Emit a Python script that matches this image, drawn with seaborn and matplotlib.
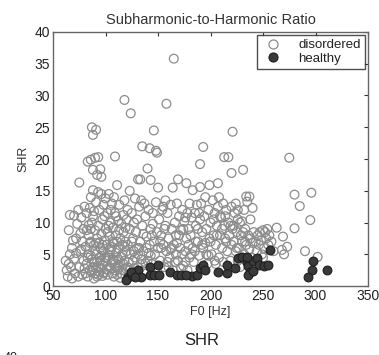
import matplotlib
matplotlib.use("Agg")
import matplotlib.pyplot as plt
from matplotlib.lines import Line2D
import seaborn as sns
import pandas as pd

# ---- data ----
dis_x = [
    63, 65, 66, 65, 66, 68, 70, 70, 71, 72, 73, 74, 75, 75, 76, 77, 78, 78, 79, 79, 80, 80, 64, 68, 72, 76, 62,
    81, 82, 82, 83, 83, 84, 84, 85, 85, 86, 86, 86, 87, 87, 87, 88, 88, 88, 88, 89, 89, 90, 90, 90, 91, 91, 91,
    92, 92, 92, 93, 93, 93, 94, 94, 95, 95, 95, 96, 96, 96, 97, 97, 98, 98, 99, 99, 100, 100, 100, 84, 86, 89,
    91, 94, 97, 99, 93, 88, 82,
    101, 101, 102, 102, 103, 103, 104, 104, 105, 105, 106, 106, 107, 107, 108, 108, 109, 109, 109, 110, 110,
    111, 111, 112, 112, 113, 113, 114, 115, 115, 116, 116, 117, 117, 118, 118, 119, 119, 120, 120, 103, 106,
    108, 111, 114, 117, 105, 112, 118, 110,
    121, 121, 122, 123, 124, 124, 125, 126, 127, 128, 128, 129, 130, 130, 131, 131, 132, 133, 133, 134, 135,
    135, 136, 137, 137, 138, 139, 140, 140, 141, 142, 142, 143, 143, 144, 145, 146, 146, 147, 148, 148, 149,
    149, 150, 150, 123, 127, 134, 139, 144, 122, 126, 129, 136, 141, 145, 132, 138,
    151, 152, 153, 154, 155, 156, 157, 158, 158, 159, 160, 161, 162, 163, 164, 164, 165, 165, 166, 167, 168,
    169, 169, 170, 171, 172, 173, 174, 175, 176, 177, 177, 178, 179, 180, 155, 160, 166, 172, 178, 153, 162,
    168, 174, 180, 157, 176,
    181, 182, 183, 183, 184, 185, 186, 187, 188, 189, 190, 190, 190, 191, 192, 193, 193, 194, 195, 196, 197,
    198, 199, 199, 200, 201, 202, 203, 204, 205, 206, 207, 207, 208, 209, 210, 211, 212, 213, 213, 214, 215,
    216, 217, 217, 218, 219, 220, 220, 220, 185, 195, 205, 212, 188, 198, 208, 203, 214,
    221, 221, 222, 223, 224, 225, 226, 227, 228, 229, 230, 231, 232, 233, 234, 234, 235, 236, 237, 237, 238,
    239, 240, 240, 241, 242, 243, 244, 245, 246, 247, 248, 249, 250, 251, 252, 253, 254, 255, 256, 258, 260,
    226, 230, 245, 250, 232, 224,
    263, 269, 273, 268, 275, 280, 280, 285, 296, 295, 302, 290, 270,
    67, 69, 74, 77, 81, 83, 85, 87, 89, 90, 92, 94, 96, 98, 99, 97, 95, 93, 91, 86,
    102, 104, 106, 107, 109, 110, 112, 113, 115, 116, 118, 119, 121, 123, 125, 127, 101, 105, 108, 111,
    131, 135, 139, 143, 147, 152, 156, 159, 163, 167, 170, 173, 176, 179,
    182, 186, 189, 192, 196, 200, 204, 206, 209, 211, 215, 219, 222, 226, 228, 231, 233, 238, 225, 229,
]
dis_y = [
    2.5, 3.5, 5.0, 8.8, 11.2, 6.0, 4.3, 11.1, 2.0, 7.5, 9.8, 12.0, 3.0, 16.3, 5.5, 10.8, 1.8, 7.0, 4.0, 9.0, 12.5, 2.8, 1.5, 1.2, 5.2, 8.3, 4.0,
    6.2, 3.5, 11.5, 19.6, 1.5, 8.0, 5.0, 12.3, 2.5, 19.9, 14.0, 7.0, 25.0, 4.2, 10.0, 18.3, 15.1, 3.0, 23.8, 6.5, 11.8, 20.2, 8.8, 2.0, 24.6, 13.2, 5.0,
    17.5, 3.8, 7.5, 20.3, 9.5, 1.8, 12.0, 4.5, 18.4, 6.0, 2.8, 17.2, 14.5, 8.2, 10.5, 3.3, 5.5, 12.8, 7.2, 2.2, 9.0, 4.0, 13.8, 9.6, 4.8, 1.2,
    6.8, 2.2, 6.5, 11.0, 14.8, 11.0, 8.8,
    6.5, 2.6, 11.5, 8.5, 4.8, 14.5, 3.0, 7.8, 10.0, 5.8, 13.0, 2.0, 9.2, 4.2, 6.8, 14.0, 20.4, 3.5, 11.5, 8.0, 5.2,
    15.9, 1.8, 10.3, 6.0, 3.2, 12.8, 7.5, 4.6, 9.8, 2.5, 6.5, 11.2, 8.5, 29.3, 4.0, 7.0, 2.8, 10.5, 5.5, 9.5, 6.2,
    1.5, 4.5, 1.3, 3.5, 12.0, 2.7, 13.5, 11.0,
    6.5, 12.0, 3.8, 9.0, 27.2, 5.0, 11.5, 7.5, 2.8, 13.8, 4.5, 8.5, 10.5, 6.0, 16.8, 3.0, 12.5, 7.0, 16.8, 4.2, 22.0,
    9.5, 5.5, 13.0, 2.5, 11.0, 7.8, 18.5, 4.0, 12.0, 21.7, 6.5, 16.7, 9.0, 3.5, 11.5, 24.5, 7.0, 5.0, 21.3, 13.2, 21.0,
    8.5, 15.5, 6.0, 15.0, 10.0, 13.5, 2.0, 8.0, 1.8, 4.0, 2.3, 8.2, 5.2, 9.8, 6.0, 3.6,
    10.5, 4.0, 8.0, 12.0, 6.5, 3.0, 9.5, 28.7, 5.5, 11.5, 7.5, 4.5, 12.8, 9.0, 15.5, 2.5, 35.8, 6.5, 10.0, 8.0, 13.0,
    16.8, 4.0, 11.0, 6.0, 8.8, 12.0, 3.2, 10.2, 5.5, 16.2, 7.5, 11.5, 9.0, 4.5, 12.5, 3.0, 3.8, 2.8, 2.5, 6.0, 5.8,
    6.8, 9.0, 13.0, 13.5, 10.8,
    8.0, 10.8, 15.1, 6.0, 3.8, 11.5, 9.5, 12.8, 7.0, 4.8, 15.6, 19.2, 10.5, 13.0, 8.5, 21.9, 6.0, 11.0, 14.0, 9.0, 3.5,
    12.0, 15.9, 7.5, 10.0, 5.0, 13.5, 8.0, 11.5, 6.5, 9.5, 16.2, 12.5, 4.5, 8.0, 10.8, 6.0, 13.0, 20.3, 9.5, 7.5, 12.0,
    5.5, 20.3, 10.0, 8.0, 4.0, 17.8, 12.5, 6.5, 5.5, 6.8, 3.5, 3.8, 9.0, 4.8, 14.0, 10.5, 11.0,
    24.3, 9.0, 7.0, 11.5, 5.5, 8.5, 10.5, 6.0, 3.0, 8.0, 7.0, 18.3, 5.0, 9.0, 14.1, 6.5, 13.3, 8.0, 14.1, 5.8, 7.5,
    4.5, 12.3, 6.8, 8.5, 4.0, 7.0, 5.5, 8.0, 6.5, 8.5, 7.2, 5.0, 8.8, 6.0, 8.5, 7.5, 9.0, 6.5, 8.0, 7.0, 5.5,
    4.0, 10.2, 3.8, 4.5, 12.0, 13.0,
    9.2, 7.8, 6.2, 5.7, 20.2, 14.4, 9.1, 12.6, 14.7, 10.4, 4.6, 5.5, 5.0,
    3.0, 7.2, 1.5, 5.8, 2.0, 4.5, 6.8, 2.2, 3.8, 5.5, 1.5, 6.8, 4.8, 2.0, 4.5, 1.6, 4.0, 3.0, 2.8, 9.0,
    1.8, 5.5, 3.8, 7.0, 2.5, 3.0, 4.2, 8.8, 2.0, 5.0, 6.2, 9.2, 3.0, 2.5, 7.0, 5.5, 4.5, 2.8, 4.0, 7.0,
    5.0, 3.5, 6.0, 4.8, 2.5, 7.0, 9.0, 3.8, 6.0, 5.0, 8.0, 5.0, 3.8, 6.5,
    5.0, 7.0, 11.5, 6.5, 5.0, 7.0, 4.0, 8.0, 11.0, 9.0, 7.0, 9.5, 9.5, 12.0, 10.0, 8.5, 7.0, 10.5, 6.0, 4.5,
]
hea_x = [121.4, 119.8, 125, 131, 133.5, 142, 150, 142, 146.5, 150.5, 161.7, 168, 172, 182.7, 187, 189.6,
         192.5, 207.5, 216, 215.5, 223, 226, 229.5, 234.5, 236, 237.5, 236, 240.7, 244, 245.7, 250.5, 255,
         256.6, 234.5, 240.5, 297.8, 297, 292.6, 310.6, 124, 128, 177, 195]
hea_y = [1.5, 0.9, 1.7, 2.5, 1.5, 3.0, 3.4, 1.7, 1.7, 1.7, 2.2, 1.8, 1.8, 1.6, 1.8, 2.8,
         3.4, 2.2, 2.0, 3.3, 2.8, 4.5, 4.6, 3.8, 3.1, 2.2, 1.7, 3.9, 4.5, 3.3, 3.1, 3.4,
         5.7, 4.6, 2.4, 3.9, 2.5, 1.5, 2.6, 2.2, 1.4, 1.7, 2.6]
x_ticks = [50, 100, 150, 200, 250, 300, 350]
y_ticks = [0, 5, 10, 15, 20, 25, 30, 35, 40]
labels = ["disordered", "healthy"]

sns.set_style("white")
plt.rcParams['font.family'] = ['Liberation Sans', 'DejaVu Sans']

fig = plt.figure(figsize=(3.79, 3.55), dpi=100)
ax = fig.add_axes([0.140, 0.194, 0.831, 0.716])

df_d = pd.DataFrame({"F0": dis_x, "SHR": dis_y})
df_h = pd.DataFrame({"F0": hea_x, "SHR": hea_y})

sns.scatterplot(data=df_d, x="F0", y="SHR", ax=ax, marker="o", s=40,
                facecolor="none", edgecolor="#8c8c8c", linewidth=0.9, legend=False)
sns.scatterplot(data=df_h, x="F0", y="SHR", ax=ax, marker="o", s=40,
                color="#3a3a3a", edgecolor="#1e1e1e", linewidth=0.8, legend=False)

ax.set_xlim(50, 350)
ax.set_ylim(0, 40)
ax.set_xticks(x_ticks)
ax.set_yticks(y_ticks)
ax.tick_params(direction="in", length=3, width=0.8, colors="#333333", labelsize=10,
               top=True, right=True, labelcolor="#222222", pad=2)
for sp in ax.spines.values():
    sp.set_color("#666666")
    sp.set_linewidth(1.0)
ax.set_xlabel("F0 [Hz]", fontsize=9, color="#333333", labelpad=2)
ax.set_ylabel("SHR", fontsize=9, color="#333333", labelpad=4)
ax.set_title("Subharmonic-to-Harmonic Ratio", fontsize=10.5, color="#333333", pad=6)

handles = [Line2D([], [], ls="none", marker="o", markersize=6.5, markerfacecolor="none",
                  markeredgecolor="#8c8c8c", markeredgewidth=0.9),
           Line2D([], [], ls="none", marker="o", markersize=6.5, markerfacecolor="#3a3a3a",
                  markeredgecolor="#1e1e1e", markeredgewidth=0.8)]
leg = ax.legend(handles, labels, loc="upper right", fontsize=9.5, frameon=True, fancybox=False,
                borderaxespad=0.25, handletextpad=1.0, labelspacing=0.1, borderpad=0.3,
                handlelength=1.8)
leg.get_frame().set_edgecolor("#222222")
leg.get_frame().set_linewidth(1.0)
for t in leg.get_texts():
    t.set_color("#222222")

fig.text(0.533, 0.042, "SHR", ha="center", va="center", fontsize=12, color="#222222")
fig.text(0.028, -0.008, "40", ha="center", va="center", fontsize=9, color="#222222")

fig.savefig("out.png", dpi=100)
